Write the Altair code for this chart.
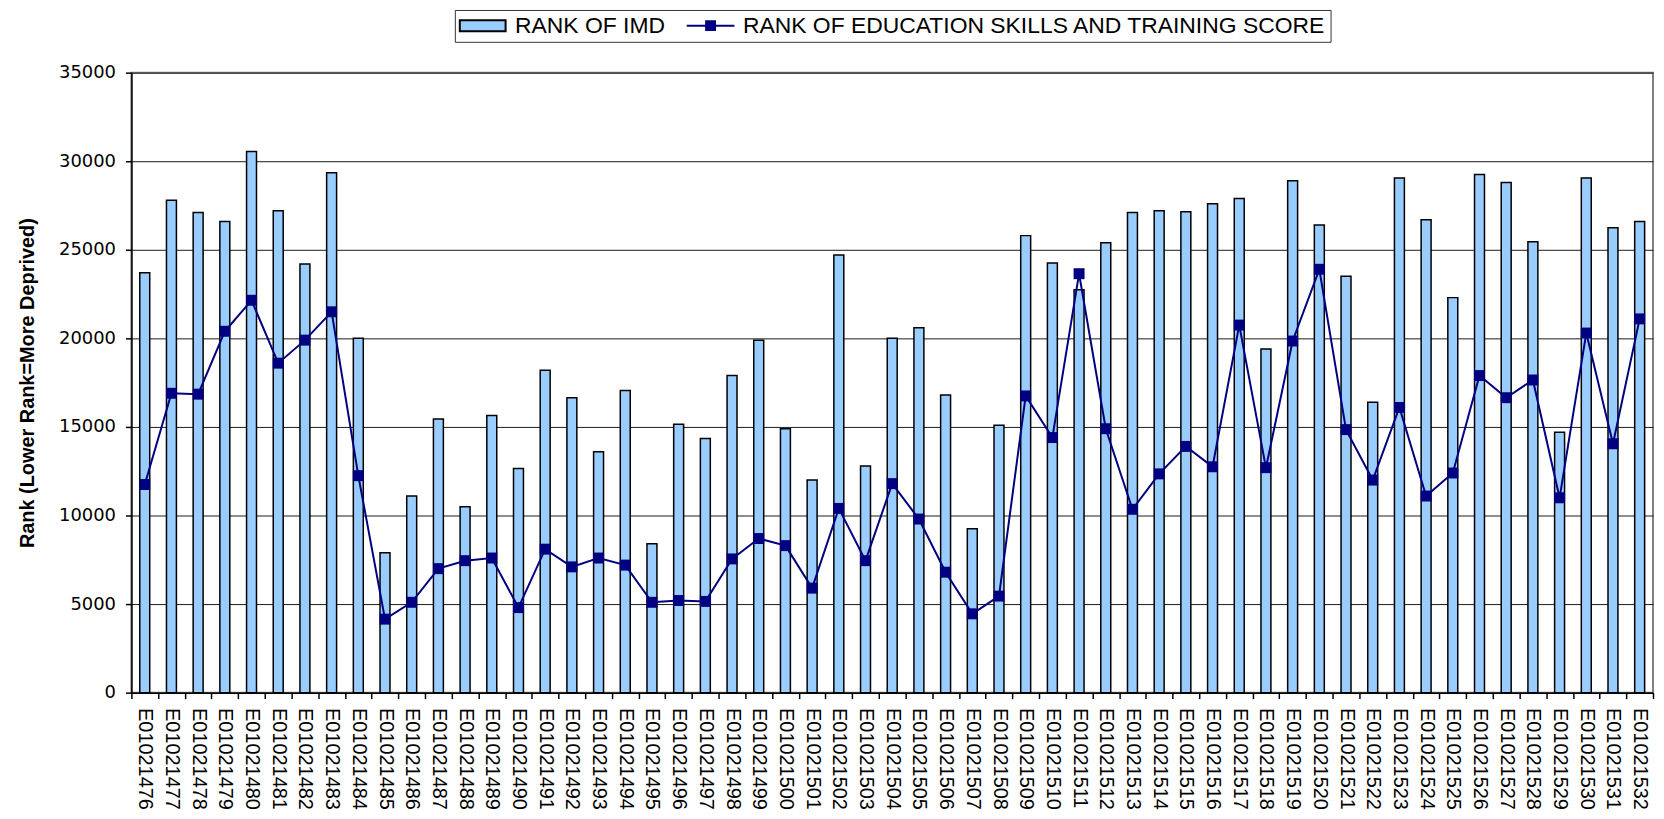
import altair as alt
import pandas as pd

areas = [
    "E01021476", "E01021477", "E01021478", "E01021479", "E01021480", "E01021481",
    "E01021482", "E01021483", "E01021484", "E01021485", "E01021486", "E01021487",
    "E01021488", "E01021489", "E01021490", "E01021491", "E01021492", "E01021493",
    "E01021494", "E01021495", "E01021496", "E01021497", "E01021498", "E01021499",
    "E01021500", "E01021501", "E01021502", "E01021503", "E01021504", "E01021505",
    "E01021506", "E01021507", "E01021508", "E01021509", "E01021510", "E01021511",
    "E01021512", "E01021513", "E01021514", "E01021515", "E01021516", "E01021517",
    "E01021518", "E01021519", "E01021520", "E01021521", "E01021522", "E01021523",
    "E01021524", "E01021525", "E01021526", "E01021527", "E01021528", "E01021529",
    "E01021530", "E01021531", "E01021532",
]

imd_rank = [
    23700, 27800, 27100, 26600, 30550, 27200, 24200, 29350, 20000, 7900,
    11100, 15450, 10500, 15650, 12650, 18200, 16650, 13600, 17050, 8400,
    15150, 14350, 17900, 19900, 14900, 12000, 24700, 12800, 20000, 20600,
    16800, 9250, 15100, 25800, 24250, 22750, 25400, 27100, 27200, 27150,
    27600, 27900, 19400, 28900, 26400, 23500, 16400, 29050, 26700, 22300,
    29250, 28800, 25450, 14700, 29050, 26250, 26600,
]

edu_rank = [
    11750, 16900, 16850, 20400, 22150, 18600, 19900, 21500, 12250, 4150,
    5100, 7000, 7450, 7600, 4800, 8100, 7100, 7600, 7200, 5100,
    5200, 5150, 7550, 8700, 8300, 5900, 10400, 7450, 11800, 9800,
    6800, 4450, 5450, 16750, 14400, 23650, 14900, 10350, 12350, 13900,
    12750, 20750, 12700, 19850, 23900, 14850, 12000, 16100, 11100, 12400,
    17900, 16650, 17650, 11000, 20300, 14050, 21100,
]

y_ticks = [0, 5000, 10000, 15000, 20000, 25000, 30000, 35000]

IMD = "RANK OF IMD"
EDU = "RANK OF EDUCATION SKILLS AND TRAINING SCORE"
series_names = [IMD, EDU]

df = pd.DataFrame({"area": areas, "imd": imd_rank, "edu": edu_rank})
legend_df = pd.DataFrame({"series": pd.Series([], dtype="str")})

x_enc = alt.X(
    "area:N",
    sort=areas,
    scale=alt.Scale(paddingInner=0, paddingOuter=0),
    axis=alt.Axis(
        title=None, labelAngle=90, labelFont="Liberation Sans", labelFontSize=20,
        labelColor="black", tickBand="extent", tickSize=6, tickColor="black",
        tickWidth=1.5, domainColor="black", domainWidth=1.5, labelPadding=9,
        grid=False, labelOverlap=False,
    ),
)

y_scale = alt.Scale(domain=[0, 35000], nice=False)
y_axis = alt.Axis(
    title="Rank (Lower Rank=More Deprived)", titleFont="Liberation Sans",
    titleFontSize=20, titleFontWeight="bold", titleColor="black", titlePadding=21,
    values=y_ticks, format="d", labelFont="DejaVu Sans", labelFontSize=18,
    labelColor="black", labelPadding=10, tickSize=6, tickColor="black",
    tickWidth=1.5, domainColor="black", domainWidth=1.5, grid=True,
    gridColor="#1a1a1a", gridWidth=1,
)

BAR_PATH = "M-3.54,-0.85H3.54V0.85H-3.54Z"
LINE_PATH = "M-3.69,0H3.69M-0.69,-0.69H0.69V0.69H-0.69Z"

legend = alt.Legend(
    title=None, orient="none", legendX=325, legendY=-63, direction="horizontal",
    labelFont="Liberation Sans", labelFontSize=23, labelColor="black",
    labelLimit=1000, symbolSize=169, symbolStrokeWidth=2, symbolOffset=12.5,
    symbolOpacity=1, labelOffset=21, columnPadding=17, padding=4,
    fillColor="white", strokeColor="#333333",
)

bars = alt.Chart(df).mark_bar(
    size=10, fill="#99CCFF", stroke="black", strokeWidth=1.5
).encode(
    x=x_enc,
    y=alt.Y("imd:Q", scale=y_scale, axis=y_axis),
)

line = alt.Chart(df).mark_line(strokeWidth=2, color="#000080").encode(
    x=x_enc,
    y=alt.Y("edu:Q", scale=y_scale, axis=y_axis),
)

points = alt.Chart(df).mark_point(
    shape="square", filled=True, size=121, opacity=1, strokeWidth=0, color="#000080"
).encode(
    x=x_enc,
    y=alt.Y("edu:Q", scale=y_scale, axis=y_axis),
)

legend_layer = alt.Chart(legend_df).mark_point(filled=True).encode(
    fill=alt.Fill("series:N", scale=alt.Scale(domain=series_names, range=["#99CCFF", "#000080"]), legend=legend),
    stroke=alt.Stroke("series:N", scale=alt.Scale(domain=series_names, range=["black", "#000080"]), legend=legend),
    shape=alt.Shape("series:N", scale=alt.Scale(domain=series_names, range=[BAR_PATH, LINE_PATH]), legend=legend),
)

chart = alt.layer(bars, line, points, legend_layer).properties(
    width=1529,
    height=623,
    autosize=alt.AutoSizeParams(type="none"),
    padding={"left": 124, "top": 63, "right": 3, "bottom": 125},
    background="white",
).configure_view(
    fill="#FFFFCC", stroke="#808080", strokeWidth=2
)

chart.save("out.html", embed_options={"renderer": "svg", "actions": False})
